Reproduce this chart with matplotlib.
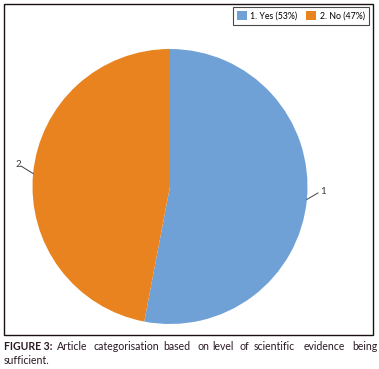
import numpy as np
import matplotlib
matplotlib.use("Agg")
import matplotlib.pyplot as plt
from matplotlib.patches import Rectangle, Patch

plt.rcParams['font.family'] = ['Lato', 'DejaVu Sans']

labels = ['1', '2']
legend_names = ['1. Yes (53%)', '2. No (47%)']
shares = [53, 47]
colors = ['#70A1D6', '#E8831F']

caption_line1 = ['Article', 'categorisation', 'based', 'on', 'level', 'of',
                 'scientific', 'evidence', 'being']
caption_x1 = [57, 93, 163, 197, 212, 239, 254, 304, 352]     # left edge in px
caption_line2 = 'sufficient.'

W, H = 379, 369
fig = plt.figure(figsize=(W / 100, H / 100), dpi=100)

#.........pie axes: centre (170,186.5) px, radius 137.5 px.........
cx, cy, r = 170, 186.5, 137.5
ax = fig.add_axes([(cx - r) / W, 1 - (cy + r) / H, 2 * r / W, 2 * r / H])
wedges, _ = ax.pie(shares, colors=colors, startangle=90, counterclock=False,
                   radius=1.0, wedgeprops=dict(linewidth=0))
ax.set_xlim(-1, 1)
ax.set_ylim(-1, 1)
ax.set_aspect('equal')
ax.axis('off')

# data labels with leader lines
text_pos = [(1.09, -0.035), (-1.085, 0.16)]
line_end = [(1.076, -0.047), (-1.084, 0.149)]
for w, lab, tp, le in zip(wedges, labels, text_pos, line_end):
    ang = np.deg2rad((w.theta1 + w.theta2) / 2)
    x0, y0 = np.cos(ang), np.sin(ang)
    ax.plot([x0, le[0]], [y0, le[1]], color='#404040', lw=0.7, clip_on=False)
    ax.text(tp[0], tp[1], lab, ha='left' if tp[0] > 0 else 'right',
            va='center', fontsize=7, color='#3a3a3a')

#.........legend.........
handles = [Patch(facecolor=c, edgecolor='none') for c in colors]
leg = fig.legend(handles, legend_names, loc='upper left',
                 bbox_to_anchor=(233 / W, 1 - 7 / H), ncol=2, fontsize=6.3,
                 frameon=True, fancybox=False, edgecolor='#1a1a1a',
                 handlelength=1.1, handleheight=1.1, handletextpad=0.4,
                 columnspacing=1.0, borderpad=0.5, borderaxespad=0)
leg.get_frame().set_linewidth(0.8)

#.........outer frame.........
fig.add_artist(Rectangle((4 / W, 1 - 335 / H), 369 / W, 331 / H,
                         transform=fig.transFigure, fill=False,
                         lw=1.0, ec='#1a1010'))

#.........caption (justified by hand).........
cap_col = '#2a1a26'
fig.text(4 / W, 1 - 347 / H, 'FIGURE 3:', fontsize=7.6, fontweight='bold',
         color=cap_col, va='center', ha='left')
for word, x in zip(caption_line1, caption_x1):
    fig.text(x / W, 1 - 347 / H, word, fontsize=7.6, color=cap_col,
             va='center', ha='left')
fig.text(4 / W, 1 - 361 / H, caption_line2, fontsize=7.6, color=cap_col,
         va='center', ha='left')

fig.savefig('out.png', dpi=100)
